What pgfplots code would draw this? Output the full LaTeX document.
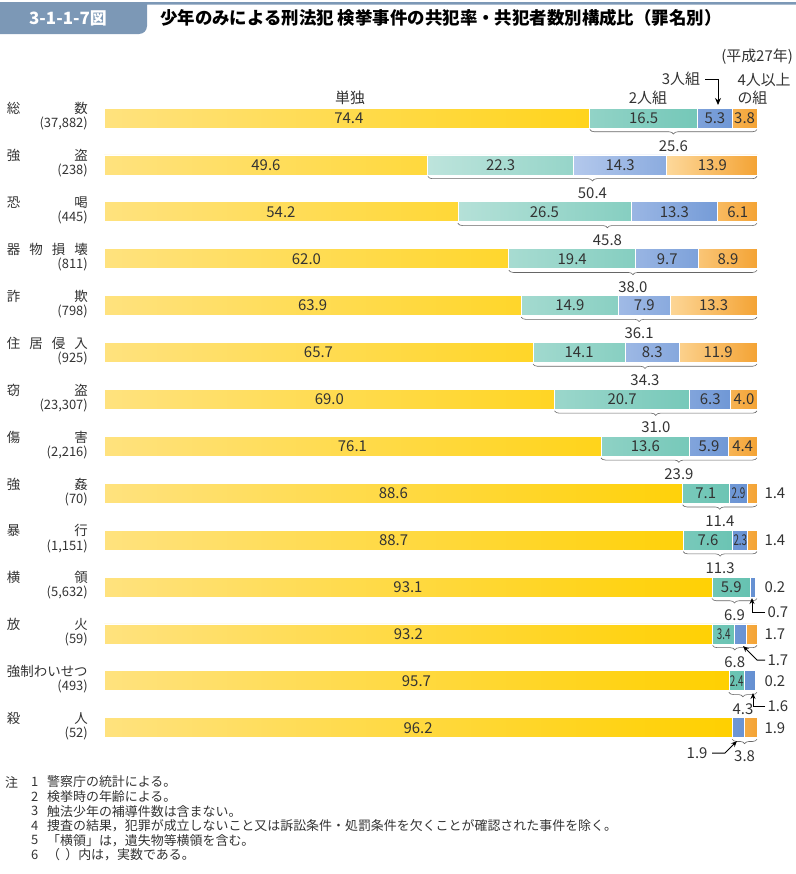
\documentclass[border=0pt]{standalone}
\usepackage{fontspec}
\setmainfont{Noto Sans CJK JP}
\usepackage{pgfplots}
\usepackage{pgfplotstable}
\pgfplotsset{compat=1.18}
\usetikzlibrary{decorations.pathreplacing,arrows.meta}
\definecolor{hdr}{HTML}{7C98B6}
\definecolor{soloL}{HTML}{FFE27E}
\definecolor{soloR}{HTML}{FFD000}
\definecolor{twoL}{HTML}{BDE4DC}
\definecolor{twoR}{HTML}{66C2B1}
\definecolor{thrL}{HTML}{B3C8EC}
\definecolor{thrR}{HTML}{6590D2}
\definecolor{fouL}{HTML}{FDD89A}
\definecolor{fouR}{HTML}{F4A334}
\definecolor{txt}{HTML}{333333}

\pgfplotstableread{
row solo two three four
0  74.4 16.5 5.3 3.8
1  49.6 22.3 14.3 13.9
2  54.2 26.5 13.3 6.1
3  62.0 19.4 9.7 8.9
4  63.9 14.9 7.9 13.3
5  65.7 14.1 8.3 11.9
6  69.0 20.7 6.3 4.0
7  76.1 13.6 5.9 4.4
8  88.6 7.1 2.9 1.4
9  88.7 7.6 2.3 1.4
10 93.1 5.9 0.7 0.2
11 93.2 3.4 1.7 1.7
12 95.7 2.4 1.6 0.2
13 96.2 0.0 1.9 1.9
}\crimedata

\newcommand{\cat}[2]{\begin{tabular}{@{}r@{}}\fontsize{13.5}{15}\selectfont\makebox[81bp]{#1}\\[0bp]\fontsize{13}{14}\selectfont(#2)\end{tabular}}
\newcommand{\barlab}[3]{\node[font=\fontsize{15}{15}\selectfont,text=txt,inner sep=0pt] at (axis cs:#1,#2) {#3};}
\newcommand{\sbarlab}[3]{\node[font=\fontsize{15}{15}\selectfont,text=txt,inner sep=0pt] at (axis cs:#1,#2) {\scalebox{0.66}[1]{#3}};}
\newcommand{\brc}[4]{\draw[decorate,decoration={brace,mirror,amplitude=4.5bp},line width=0.6pt,black!60] ([yshift=-11.5bp]axis cs:#1,#2) -- ([yshift=-11.5bp]axis cs:100,#2);
\node[font=\fontsize{15}{15}\selectfont,text=txt,inner sep=0pt] at ([yshift=-28bp]axis cs:#3,#2) {#4};}
\pgfplotsset{frame/.style={
  at={(104bp,-94.55bp)}, anchor=north west,
  scale only axis, width=653bp, height=656.6bp,
  xmin=0, xmax=100, ymin=-0.5, ymax=13.5, y dir=reverse,
  axis line style={draw=none}, major tick length=0pt,
  xtick=\empty, clip=false}}

\begin{document}
\begin{tikzpicture}
\useasboundingbox (0,0) rectangle (796bp,-874bp);
% header
\fill[hdr] (0,-2bp) -- (796bp,-2bp) -- (796bp,-4.5bp) -- (147bp,-4.5bp) -- (147bp,-26bp) arc[start angle=0,end angle=-90,radius=8bp] -- (0,-34bp) -- cycle;
\node[text=white,font=\fontsize{17}{17}\selectfont\bfseries,inner sep=0pt] at (68bp,-18bp) {3-1-1-7図};
\node[anchor=west,font=\fontsize{17.5}{17.5}\selectfont\bfseries,inner sep=0pt] at (160bp,-18bp) {少年のみによる刑法犯 検挙事件の共犯率・共犯者数別構成比（罪名別）};
\node[anchor=east,font=\fontsize{15}{15}\selectfont,text=txt,inner sep=0pt] at (793bp,-57bp) {(平成27年)};

\begin{axis}[
  frame,
  xbar stacked, bar width=20bp,
  ytick={0,...,13},
  yticklabels={
    {\cat{総\hfill 数}{37,882}},
    {\cat{強\hfill 盗}{238}},
    {\cat{恐\hfill 喝}{445}},
    {\cat{器\hfill 物\hfill 損\hfill 壊}{811}},
    {\cat{詐\hfill 欺}{798}},
    {\cat{住\hfill 居\hfill 侵\hfill 入}{925}},
    {\cat{窃\hfill 盗}{23,307}},
    {\cat{傷\hfill 害}{2,216}},
    {\cat{強\hfill 姦}{70}},
    {\cat{暴\hfill 行}{1,151}},
    {\cat{横\hfill 領}{5,632}},
    {\cat{放\hfill 火}{59}},
    {\cat{強制わいせつ}{493}},
    {\cat{殺\hfill 人}{52}}
  },
  yticklabel style={anchor=east, inner sep=0pt, xshift=-16bp, yshift=1bp, text=txt},
]
\addplot[left color=soloL, right color=soloR, draw=white, line width=0.8pt] table[x=solo,y=row]{\crimedata};
\addplot[left color=twoL, right color=twoR, draw=white, line width=0.8pt] table[x=two,y=row]{\crimedata};
\addplot[left color=thrL, right color=thrR, draw=white, line width=0.8pt] table[x=three,y=row]{\crimedata};
\addplot[left color=fouL, right color=fouR, draw=white, line width=0.8pt] table[x=four,y=row]{\crimedata};
\end{axis}

\begin{axis}[frame, ytick=\empty]
% labels inside bars
\barlab{37.5}{0}{74.4}\barlab{82.65}{0}{16.5}\barlab{93.55}{0}{5.3}\barlab{98.1}{0}{3.8}
\barlab{24.8}{1}{49.6}\barlab{60.75}{1}{22.3}\barlab{79.05}{1}{14.3}\barlab{93.15}{1}{13.9}
\barlab{27.1}{2}{54.2}\barlab{67.45}{2}{26.5}\barlab{87.35}{2}{13.3}\barlab{97.05}{2}{6.1}
\barlab{31.0}{3}{62.0}\barlab{71.7}{3}{19.4}\barlab{86.25}{3}{9.7}\barlab{95.55}{3}{8.9}
\barlab{31.95}{4}{63.9}\barlab{71.35}{4}{14.9}\barlab{82.75}{4}{7.9}\barlab{93.35}{4}{13.3}
\barlab{32.85}{5}{65.7}\barlab{72.75}{5}{14.1}\barlab{83.95}{5}{8.3}\barlab{94.05}{5}{11.9}
\barlab{34.5}{6}{69.0}\barlab{79.35}{6}{20.7}\barlab{92.85}{6}{6.3}\barlab{98.0}{6}{4.0}
\barlab{38.05}{7}{76.1}\barlab{82.9}{7}{13.6}\barlab{92.65}{7}{5.9}\barlab{97.8}{7}{4.4}
\barlab{44.3}{8}{88.6}\barlab{92.15}{8}{7.1}\sbarlab{97.15}{8}{2.9}
\barlab{44.35}{9}{88.7}\barlab{92.5}{9}{7.6}\sbarlab{97.45}{9}{2.3}
\barlab{46.55}{10}{93.1}\barlab{96.05}{10}{5.9}
\barlab{46.6}{11}{93.2}\sbarlab{94.9}{11}{3.4}
\barlab{47.85}{12}{95.7}\sbarlab{96.9}{12}{2.4}
\barlab{48.1}{13}{96.2}
% braces
\brc{74.4}{0}{87.2}{25.6}
\brc{49.6}{1}{74.8}{50.4}
\brc{54.2}{2}{77.1}{45.8}
\brc{62.0}{3}{81.0}{38.0}
\brc{63.9}{4}{81.95}{36.1}
\brc{65.7}{5}{82.85}{34.3}
\brc{69.0}{6}{84.5}{31.0}
\brc{76.1}{7}{88.05}{23.9}
\brc{88.6}{8}{94.3}{11.4}
\brc{88.7}{9}{94.35}{11.3}
\brc{93.1}{10}{96.55}{6.9}
\brc{93.2}{11}{96.6}{6.8}
\brc{95.7}{12}{97.85}{4.3}
\brc{96.2}{13}{98.1}{3.8}
\end{axis}

\begin{scope}[font=\fontsize{15}{15}\selectfont,text=txt]
% series headers
\node at (350bp,-98bp) {単独};
\node at (648bp,-98bp) {2人組};
\node at (681bp,-79bp) {3人組};
\draw[line width=1pt,-{Stealth[length=7bp,width=6bp]}] (705bp,-79bp) -- (718bp,-79bp) -- (718bp,-105bp);
\node[anchor=west] at (734bp,-80bp) {4人以上};
\node[anchor=west] at (734bp,-98bp) {の組};
% outside labels
\node[anchor=west] at (761bp,-493.3bp) {1.4};
\node[anchor=west] at (761bp,-540.2bp) {1.4};
\node[anchor=west] at (761bp,-587bp) {0.2};
\node[anchor=west] at (761bp,-634bp) {1.7};
\node[anchor=west] at (761bp,-681bp) {0.2};
\node[anchor=west] at (761bp,-728bp) {1.9};
% arrows to small segments
\node[anchor=west] at (764bp,-612bp) {0.7};
\draw[line width=1pt,-{Stealth[length=6bp,width=5bp]}] (765bp,-612bp) -- (752bp,-612bp) -- (752bp,-598bp);
\node[anchor=west] at (764bp,-660bp) {1.7};
\draw[line width=1pt,-{Stealth[length=6bp,width=5bp]}] (765bp,-660bp) -- (757bp,-660bp) -- (743bp,-646bp);
\node[anchor=west] at (764bp,-706bp) {1.6};
\draw[line width=1pt,-{Stealth[length=6bp,width=5bp]}] (765bp,-706bp) -- (753bp,-706bp) -- (753bp,-693bp);
\node[anchor=east] at (711bp,-753bp) {1.9};
\draw[line width=1pt,-{Stealth[length=6bp,width=5bp]}] (712bp,-753bp) -- (725bp,-753bp) -- (737bp,-741bp);
\end{scope}

% notes
\begin{scope}[font=\fontsize{13}{13}\selectfont,text=txt]
\node[anchor=west,inner sep=0pt] at (5bp,-782bp) {注};
\foreach \n/\t [count=\i from 0] in {1/警察庁の統計による。,2/検挙時の年齢による。,3/触法少年の補導件数は含まない。,4/{捜査の結果，犯罪が成立しないこと又は訴訟条件・処罰条件を欠くことが確認された事件を除く。},5/「横領」は，遺失物等横領を含む。,6/（\hspace{0.4em}）内は，実数である。}{
  \node[anchor=west,inner sep=0pt] at (31bp,-782bp-\i*14.6bp) {\n};
  \node[anchor=west,inner sep=0pt] at (47bp,-782bp-\i*14.6bp) {\t};
}
\end{scope}
\end{tikzpicture}
\end{document}
